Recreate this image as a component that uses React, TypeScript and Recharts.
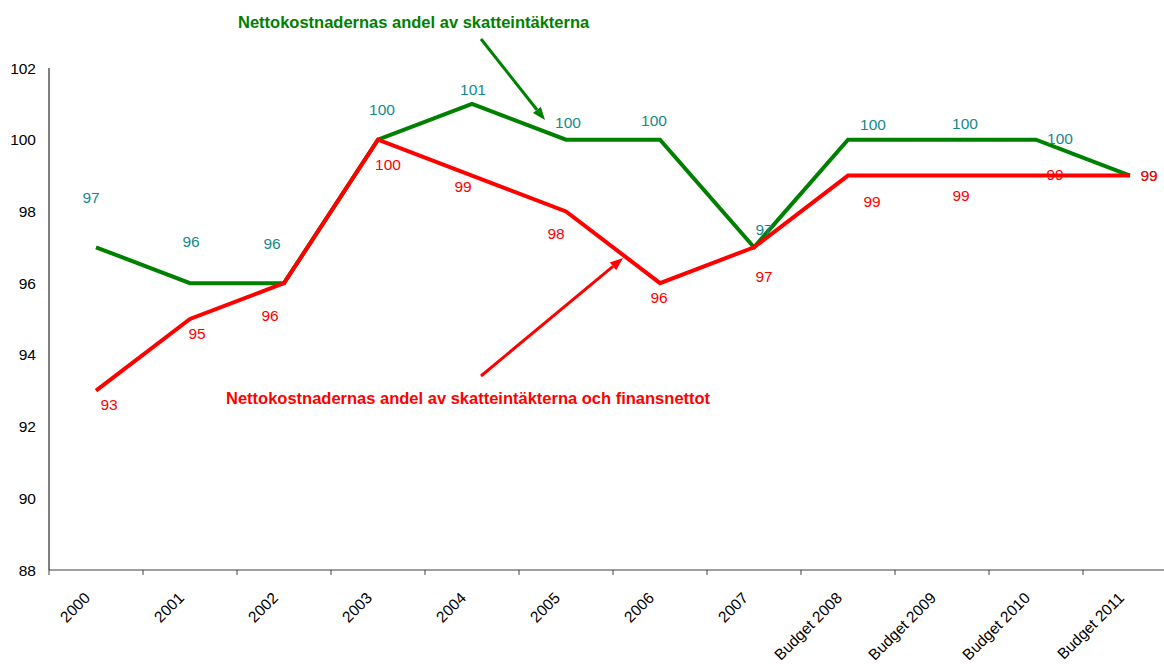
import React from "react";
import { LineChart, Line, XAxis, YAxis } from "recharts";

const years = [
  "2000", "2001", "2002", "2003", "2004", "2005", "2006", "2007",
  "Budget 2008", "Budget 2009", "Budget 2010", "Budget 2011",
];
const skatt = [97, 96, 96, 100, 101, 100, 100, 97, 100, 100, 100, 99];
const skattFinans = [93, 95, 96, 100, 99, 98, 96, 97, 99, 99, 99, 99];
const yTicks = [88, 90, 92, 94, 96, 98, 100, 102];

// label nudges (Excel put them all over the place)
const greenNudge = [
  [-5, -50], [1, -42], [-12, -40], [4, -30], [1, -14], [2, -17],
  [-6, -19], [10, -18], [25, -15], [23, -16], [24, -1], [19, 0],
];
const redNudge = [
  [13, 14], [7, 14], [-14, 32], [10, 25], [-9, 11], [-10, 22],
  [-1, 14], [10, 29], [24, 26], [19, 20], [19, -1], [19, 0],
];

const data = years.map((name, i) => ({ name, skatt: skatt[i], finans: skattFinans[i] }));

const FONT = "'Liberation Sans', Arial, sans-serif";
const GREEN = "#008000";
const RED = "#ff0000";
const TEAL = "#158a8a";

function makeLabel(nudge: number[][], color: string) {
  return (props: any) => {
    const { x, y, value, index } = props;
    const [dx, dy] = nudge[index] || [0, -12];
    return (
      <text
        x={x + dx}
        y={y + dy}
        textAnchor="middle"
        dominantBaseline="central"
        fontSize={15.5}
        fontFamily={FONT}
        fill={color}
      >
        {value}
      </text>
    );
  };
}

const XTick = (props: any) => {
  const { x, y, payload } = props;
  const half = payload.offset || 47;
  const ax = x - 5;
  const ay = y + 29;
  return (
    <g>
      <line x1={x - half} x2={x - half} y1={y} y2={y + 5} stroke="#404040" />
      <text
        x={ax}
        y={ay}
        textAnchor="end"
        transform={`rotate(-45, ${ax}, ${ay})`}
        fontSize={15.5}
        fontFamily={FONT}
        fill="#000"
      >
        {payload.value}
      </text>
    </g>
  );
};

function Arrow({ x1, y1, x2, y2, color }: any) {
  const a = Math.atan2(y2 - y1, x2 - x1);
  const len = 13;
  const w = 5;
  const bx = x2 - len * Math.cos(a);
  const by = y2 - len * Math.sin(a);
  const px = -Math.sin(a) * w;
  const py = Math.cos(a) * w;
  return (
    <g>
      <line x1={x1} y1={y1} x2={bx} y2={by} stroke={color} strokeWidth={3} />
      <polygon points={`${x2},${y2} ${bx + px},${by + py} ${bx - px},${by - py}`} fill={color} />
    </g>
  );
}

export default function App() {
  return (
    <div
      style={{
        position: "fixed",
        left: 0,
        top: 0,
        width: 1164,
        height: 664,
        overflow: "hidden",
        background: "#fff",
      }}
    >
      <LineChart
        width={1200}
        height={664}
        data={data}
        margin={{ top: 68, right: 23, left: 0, bottom: 0 }}
      >
        <XAxis
          dataKey="name"
          scale="band"
          height={94}
          tickLine={false}
          tickSize={0}
          tickMargin={0}
          interval={0}
          stroke="#404040"
          tick={<XTick />}
        />
        <YAxis
          width={49}
          domain={[88, 102]}
          ticks={yTicks}
          tickLine={false}
          tickSize={0}
          tickMargin={13}
          stroke="#000"
          tick={{ fontSize: 15.5, fill: "#000", fontFamily: FONT }}
        />
        <Line
          dataKey="skatt"
          stroke={GREEN}
          strokeWidth={4}
          dot={false}
          isAnimationActive={false}
          label={makeLabel(greenNudge, TEAL)}
        />
        <Line
          dataKey="finans"
          stroke={RED}
          strokeWidth={4}
          dot={false}
          isAnimationActive={false}
          label={makeLabel(redNudge, RED)}
        />
      </LineChart>
      <svg
        width={1164}
        height={664}
        style={{ position: "absolute", left: 0, top: 0, pointerEvents: "none" }}
      >
        <text x={238} y={22} dominantBaseline="central" fontSize={16.5} fontWeight="bold" fontFamily={FONT} fill={GREEN}>
          Nettokostnadernas andel av skatteintäkterna
        </text>
        <text x={226} y={398} dominantBaseline="central" fontSize={16.5} fontWeight="bold" fontFamily={FONT} fill={RED}>
          Nettokostnadernas andel av skatteintäkterna och finansnettot
        </text>
        <Arrow x1={481} y1={39} x2={545} y2={120} color={GREEN} />
        <Arrow x1={481} y1={376} x2={623} y2={258} color={RED} />
      </svg>
    </div>
  );
}
